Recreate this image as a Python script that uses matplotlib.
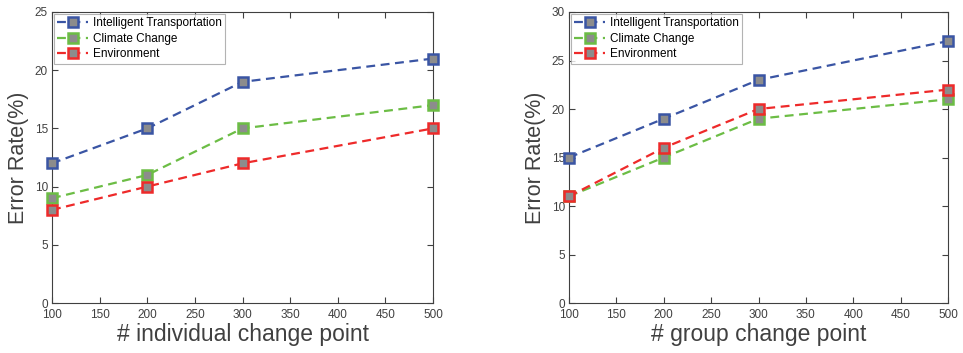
import matplotlib
matplotlib.use("Agg")
import matplotlib.pyplot as plt

plt.rcParams['font.family'] = ['Liberation Sans', 'DejaVu Sans']

x_vals = [100, 200, 300, 500]
series_names = ["Intelligent Transportation", "Climate Change", "Environment"]
colors = ["#3a55a4", "#6cbd45", "#ee2a2a"]

left_values = [
    [12, 15, 19, 21],
    [9, 11, 15, 17],
    [8, 10, 12, 15],
]
right_values = [
    [15, 19, 23, 27],
    [11, 15, 19, 21],
    [11, 16, 20, 22],
]

left_xlabel = "# individual change point"
right_xlabel = "# group change point"
ylabel = "Error Rate(%)"

AX_COLOR = "#404040"

fig = plt.figure(figsize=(9.63, 3.53), dpi=100)
ax1 = fig.add_axes([52 / 963, 1 - 303 / 353, 381 / 963, 291 / 353])
ax2 = fig.add_axes([569 / 963, 1 - 303 / 353, 379 / 963, 291 / 353])


def draw(ax, values, xlabel, ymax):
    for name, vals, c in zip(series_names, values, colors):
        ax.plot(x_vals, vals, linestyle=(0, (4, 2.5)), color=c, linewidth=1.6,
                marker="s", markersize=7, markerfacecolor="#8c8c8c",
                markeredgecolor=c, markeredgewidth=1.8, label=name,
                clip_on=False, zorder=3)
    ax.set_xlim(100, 500)
    ax.set_ylim(0, ymax)
    ax.set_xticks(range(100, 501, 50))
    ax.set_yticks(range(0, ymax + 1, 5))
    ax.tick_params(direction="in", top=True, right=True, labelsize=8.5,
                   colors=AX_COLOR, length=4, width=0.8, pad=3)
    ax.tick_params(axis="x", pad=4)
    for sp in ax.spines.values():
        sp.set_color(AX_COLOR)
        sp.set_linewidth(0.8)
    ax.set_xlabel(xlabel, fontsize=16.5, color=AX_COLOR, labelpad=2)
    ax.set_ylabel(ylabel, fontsize=15.5, color=AX_COLOR, labelpad=4)
    leg = ax.legend(loc="upper left", fontsize=8.5, frameon=True, fancybox=False,
                    handlelength=2.6, handletextpad=0.4, borderpad=0.3,
                    labelspacing=0.3, borderaxespad=0.15)
    leg.get_frame().set_edgecolor("#a0a0a0")
    leg.get_frame().set_linewidth(0.8)


draw(ax1, left_values, left_xlabel, 25)
draw(ax2, right_values, right_xlabel, 30)

fig.savefig("out.png", dpi=100)
